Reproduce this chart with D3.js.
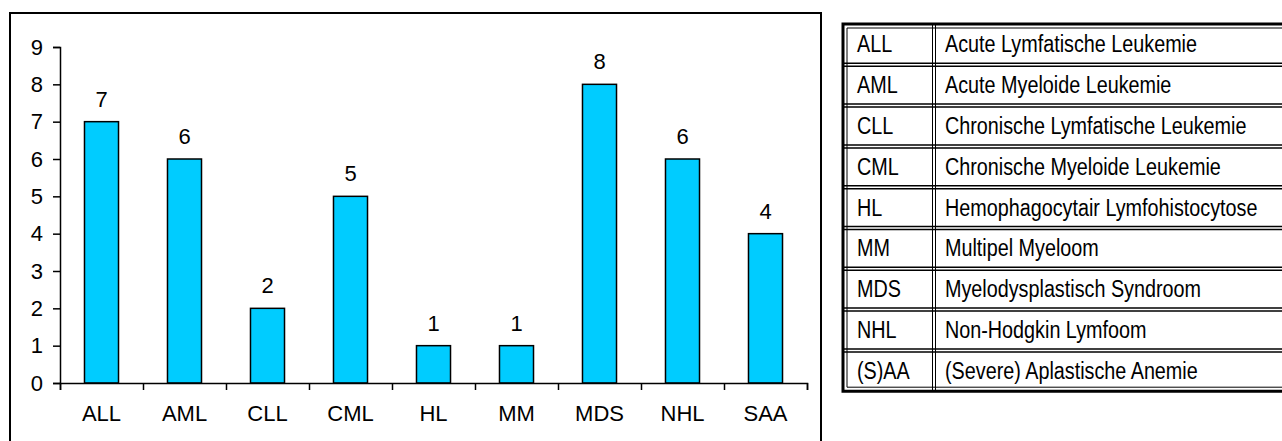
<!DOCTYPE html>
<html lang="nl">
<head>
    <meta charset="UTF-8">
    <title>Diagnoses</title>
    <script src="https://d3js.org/d3.v7.min.js"></script>
    <style>
        body { margin: 0; background: #fff; }
        svg text { font-family: "Liberation Sans", Arial, sans-serif; fill: #000; }
        .tbl text { font-size: 23px; }
    </style>
</head>
<body>
    <div id="chart"></div>

    <script>
        // Data
        const categories = ["ALL", "AML", "CLL", "CML", "HL", "MM", "MDS", "NHL", "SAA"];
        const counts = [7, 6, 2, 5, 1, 1, 8, 6, 4];
        const yTicks = [0, 1, 2, 3, 4, 5, 6, 7, 8, 9];
        const abbreviations = ["ALL", "AML", "CLL", "CML", "HL", "MM", "MDS", "NHL", "(S)AA"];
        const descriptions = [
            "Acute Lymfatische Leukemie",
            "Acute Myeloide Leukemie",
            "Chronische Lymfatische Leukemie",
            "Chronische Myeloide Leukemie",
            "Hemophagocytair Lymfohistocytose",
            "Multipel Myeloom",
            "Myelodysplastisch Syndroom",
            "Non-Hodgkin Lymfoom",
            "(Severe) Aplastische Anemie"
        ];

        const width = 1282;
        const height = 441;

        const svg = d3.select("#chart")
            .append("svg")
            .attr("width", width)
            .attr("height", height);

        // Chart frame (bottom runs off the picture)
        svg.append("rect")
            .attr("x", 10)
            .attr("y", 13)
            .attr("width", 811)
            .attr("height", 445)
            .attr("fill", "none")
            .attr("stroke", "#000")
            .attr("stroke-width", 2);

        // Scales
        const x = d3.scaleBand()
            .domain(categories)
            .range([60, 807]);

        const xEdges = d3.scaleLinear()
            .domain([0, categories.length])
            .range([60, 807]);

        const y = d3.scaleLinear()
            .domain([0, 9])
            .range([383, 47]);

        const barWidth = x.bandwidth() * 0.41;

        // Bars
        svg.selectAll(".bar")
            .data(categories)
            .enter()
            .append("rect")
            .attr("class", "bar")
            .attr("x", d => x(d) + (x.bandwidth() - barWidth) / 2)
            .attr("y", (d, i) => y(counts[i]))
            .attr("width", barWidth)
            .attr("height", (d, i) => y(0) - y(counts[i]))
            .attr("fill", "#00ccff")
            .attr("stroke", "#000")
            .attr("stroke-width", 1.5);

        // Value labels
        svg.selectAll(".val")
            .data(categories)
            .enter()
            .append("text")
            .attr("class", "val")
            .attr("x", d => x(d) + x.bandwidth() / 2)
            .attr("y", (d, i) => y(counts[i]) - 15)
            .attr("text-anchor", "middle")
            .style("font-size", "22px")
            .text((d, i) => counts[i]);

        // Y axis
        svg.append("g")
            .attr("transform", "translate(60,0)")
            .call(d3.axisLeft(y).tickValues(yTicks).tickSize(7).tickPadding(10).tickFormat(d3.format("d")));

        // X axis: tick marks at band edges, labels centred in bands
        svg.append("g")
            .attr("transform", "translate(0,383)")
            .call(d3.axisBottom(xEdges).tickValues(d3.range(categories.length + 1)).tickSize(7).tickFormat(""));

        const xLabels = svg.append("g")
            .attr("transform", "translate(0,383)")
            .call(d3.axisBottom(x).tickSize(0).tickPadding(22));
        xLabels.select(".domain").remove();

        svg.selectAll(".tick text").style("font-size", "22px").style("font-family", "'Liberation Sans', Arial, sans-serif");
        svg.selectAll(".domain, .tick line").attr("stroke", "#000").attr("stroke-width", 1.5);

        // Legend table
        const tblLeft = 843;
        const tblTop = 24;
        const rowH = 40.8;
        const colX = 934;
        const tblRight = 1290;
        const tblBottom = tblTop + rowH * abbreviations.length;
        const narrow = 0.86;

        const tbl = svg.append("g").attr("class", "tbl");

        // Row separators (double lines)
        const seps = d3.range(1, abbreviations.length);
        [-1.5, 1.5].forEach(off => {
            tbl.selectAll(null)
                .data(seps)
                .enter()
                .append("line")
                .attr("x1", tblLeft)
                .attr("x2", tblRight)
                .attr("y1", d => tblTop + d * rowH + off)
                .attr("y2", d => tblTop + d * rowH + off)
                .attr("stroke", "#000")
                .attr("stroke-width", 1.5);
        });

        // Column divider (double thin lines)
        [colX - 1.5, colX + 1.5].forEach(cx => {
            tbl.append("line")
                .attr("x1", cx).attr("x2", cx)
                .attr("y1", tblTop).attr("y2", tblBottom)
                .attr("stroke", "#000").attr("stroke-width", 1);
        });

        // Outer border: thick outer line + thin inner line
        tbl.append("path")
            .attr("d", `M${tblRight},${tblTop} H${tblLeft} V${tblBottom} H${tblRight}`)
            .attr("fill", "none").attr("stroke", "#000").attr("stroke-width", 3);
        tbl.append("path")
            .attr("d", `M${tblRight},${tblTop + 4} H${tblLeft + 4} V${tblBottom - 4} H${tblRight}`)
            .attr("fill", "none").attr("stroke", "#000").attr("stroke-width", 1);

        // Cell texts (condensed like Arial Narrow)
        tbl.selectAll(".abbr")
            .data(abbreviations)
            .enter()
            .append("text")
            .attr("transform", (d, i) => `translate(857,${tblTop + i * rowH + rowH / 2 + 8}) scale(${narrow},1)`)
            .text(d => d);

        tbl.selectAll(".desc")
            .data(descriptions)
            .enter()
            .append("text")
            .attr("transform", (d, i) => `translate(945,${tblTop + i * rowH + rowH / 2 + 8}) scale(${narrow},1)`)
            .text(d => d);
    </script>
</body>
</html>
